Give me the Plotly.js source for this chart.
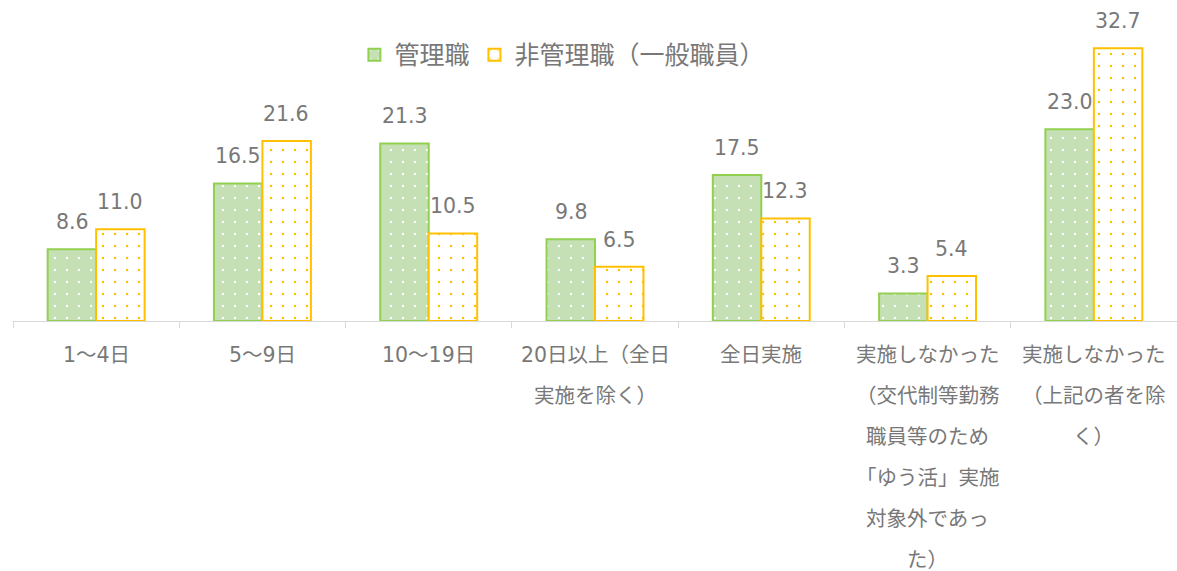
<!DOCTYPE html>
<html>
<head>
<meta charset="utf-8">
<script src="https://cdn.plot.ly/plotly-3.0.1.min.js"></script>
<style>html,body{margin:0;padding:0;background:#fff;}#chart{width:1177px;height:571px;}</style>
</head>
<body>
<div id="chart"></div>
<script>
const categories = [
  "1～4日",
  "5～9日",
  "10～19日",
  "20日以上（全日\n実施を除く）",
  "全日実施",
  "実施しなかった\n（交代制等勤務\n職員等のため\n「ゆう活」実施\n対象外であっ\nた）",
  "実施しなかった\n（上記の者を除\nく）"
];
const seriesNames = ["管理職", "非管理職（一般職員）"];
const managers = [8.6, 16.5, 21.3, 9.8, 17.5, 3.3, 23.0];
const nonManagers = [11.0, 21.6, 10.5, 6.5, 12.3, 5.4, 32.7];

const FONT = "Verdana, 'DejaVu Sans', 'Noto Sans CJK JP', sans-serif";
const GRAY = "#787878";
const xIdx = categories.map((_, i) => i);

const traces = [
  {
    type: "bar", name: seriesNames[0], x: xIdx, y: managers,
    marker: {
      color: "#C5E0B4",
      line: {color: "#92D050", width: 2},
      pattern: {shape: ".", fgcolor: "#ffffff", bgcolor: "#C5E0B4", size: 12, solidity: 0.03, fillmode: "replace"}
    },
    hoverinfo: "skip"
  },
  {
    type: "bar", name: seriesNames[1], x: xIdx, y: nonManagers,
    marker: {
      color: "#ffffff",
      line: {color: "#FFC000", width: 2},
      pattern: {shape: ".", fgcolor: "#FFC000", bgcolor: "#ffffff", size: 12, solidity: 0.03, fillmode: "replace"}
    },
    hoverinfo: "skip"
  }
];

const annotations = [];
[managers, nonManagers].forEach((vals, s) => {
  vals.forEach((v, i) => {
    annotations.push({
      x: i, y: v, xref: "x", yref: "y", text: v.toFixed(1), showarrow: false,
      xshift: s === 0 ? -24 : 24, yshift: 27, yanchor: "middle",
      font: {family: FONT, size: 20.5, color: GRAY}
    });
  });
});
categories.forEach((lab, i) => {
  lab.split("\n").forEach((line, j) => {
    annotations.push({
      x: i, y: 0, xref: "x", yref: "paper", text: line, showarrow: false,
      yanchor: "middle", yshift: -34 - 41 * j,
      font: {family: FONT, size: 20.5, color: GRAY}
    });
  });
});

const layout = {
  width: 1177, height: 571,
  margin: {l: 13, r: 0, t: 0, b: 250},
  paper_bgcolor: "#ffffff", plot_bgcolor: "#ffffff",
  barmode: "group", bargap: 0.417, bargroupgap: 0,
  showlegend: true,
  legend: {
    orientation: "h", x: 0.472, xanchor: "center", y: 0.829, yanchor: "middle",
    font: {family: FONT, size: 25, color: GRAY}, itemwidth: 30, bgcolor: "rgba(0,0,0,0)"
  },
  xaxis: {
    type: "linear", range: [-0.5, 6.5], showgrid: false, zeroline: false,
    showline: true, linecolor: "#d9d9d9", linewidth: 1,
    tickmode: "array", tickvals: [-0.5, 0.5, 1.5, 2.5, 3.5, 4.5, 5.5, 6.5],
    ticktext: ["", "", "", "", "", "", "", ""],
    ticks: "outside", ticklen: 6, tickcolor: "#d9d9d9", tickwidth: 1,
    fixedrange: true
  },
  yaxis: {
    range: [0, 38.5], showgrid: false, zeroline: false, showline: false,
    showticklabels: false, ticks: "", fixedrange: true
  },
  annotations: annotations
};

Plotly.newPlot("chart", traces, layout, {displayModeBar: false, staticPlot: true});
</script>
</body>
</html>
